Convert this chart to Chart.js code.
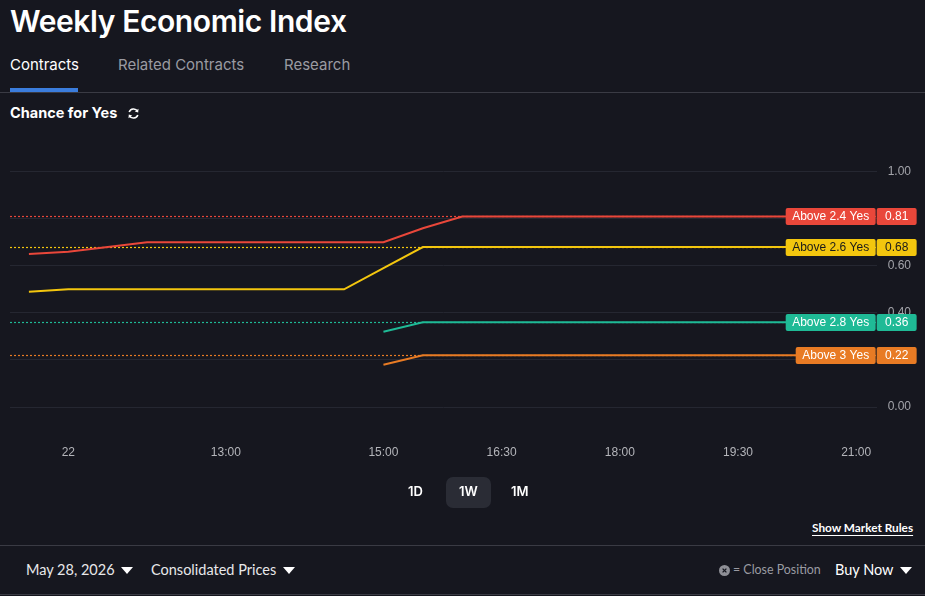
<!DOCTYPE html>
<html>
<head>
<meta charset="utf-8">
<script src="https://cdn.jsdelivr.net/npm/chart.js@4.4.1/dist/chart.umd.min.js"></script>
<style>
  html, body { margin: 0; padding: 0; background: #16171f; }
  body { width: 925px; height: 596px; position: relative; overflow: hidden; font-family: Inter, "Noto Sans", sans-serif; color: #fff; }
  .abs { position: absolute; white-space: nowrap; }
  #title { left: 10px; top: 3px; font-size: 30px; font-weight: 600; letter-spacing: -0.4px; }
  .tab { top: 55px; font-size: 15px; color: #9a9ba2; }
  #tabActive { left: 10px; color: #fff; }
  #tabLine { left: 10px; top: 88px; width: 68px; height: 4px; background: #3b7ddd; }
  .sep { left: 0; width: 925px; height: 1px; background: #3a3b44; }
  #chanceFor { left: 10px; top: 104px; font-size: 14.5px; font-weight: 700; }
  #chartWrap { left: 0; top: 130px; }
  .rng { top: 483px; font-size: 13px; font-weight: 600; }
  #r1W { left: 446px; top: 477px; width: 45px; height: 31px; background: #2a2c35; border-radius: 7px; }
  #rules { left: 812px; top: 520px; font-family: Lato, sans-serif; font-size: 11.8px; font-weight: 700; text-decoration: underline; text-underline-offset: 3px; }
  .bot { top: 561px; font-family: Lato, sans-serif; font-size: 14.5px; color: #e8e8ea; }
  .tri { width: 0; height: 0; border-left: 6px solid transparent; border-right: 6px solid transparent; border-top: 7px solid #fff; }
</style>
</head>
<body>
<div class="abs" id="title">Weekly Economic Index</div>
<div class="abs tab" id="tabActive">Contracts</div>
<div class="abs tab" style="left:118px">Related Contracts</div>
<div class="abs tab" style="left:284px">Research</div>
<div class="abs sep" style="top:92px"></div>
<div class="abs" id="tabLine"></div>
<div class="abs" id="chanceFor">Chance for Yes</div>
<svg class="abs" style="left:127px;top:107px" width="13" height="13" viewBox="0 0 13 13">
  <path d="M10.5 4.2 A4.6 4.6 0 0 0 2.2 5" fill="none" stroke="#fff" stroke-width="1.6"/>
  <path d="M2.5 8.8 A4.6 4.6 0 0 0 10.8 8" fill="none" stroke="#fff" stroke-width="1.6"/>
  <path d="M11.5 1.8 L11.2 5.4 L7.8 4.6 Z" fill="#fff"/>
  <path d="M1.5 11.2 L1.8 7.6 L5.2 8.4 Z" fill="#fff"/>
</svg>

<div class="abs" id="chartWrap"><canvas id="wei" width="925" height="350"></canvas></div>

<div class="abs" id="r1W"></div>
<div class="abs rng" style="left:408px">1D</div>
<div class="abs rng" style="left:459px">1W</div>
<div class="abs rng" style="left:511px">1M</div>
<div class="abs" id="rules">Show Market Rules</div>
<div class="abs sep" style="top:545px"></div>

<div class="abs bot" style="left:26px">May 28, 2026</div>
<div class="abs tri" style="left:121px;top:567px"></div>
<div class="abs bot" style="left:151px">Consolidated Prices</div>
<div class="abs tri" style="left:283px;top:567px"></div>
<svg class="abs" style="left:719px;top:565px" width="11" height="11" viewBox="0 0 11 11">
  <circle cx="5.5" cy="5.5" r="5.5" fill="#8e8f96"/>
  <path d="M3.6 3.6 L7.4 7.4 M7.4 3.6 L3.6 7.4" stroke="#16171f" stroke-width="1.3"/>
</svg>
<div class="abs" style="left:733px;top:562px;font-family:Lato,sans-serif;font-size:12.4px;color:#9a9ba2">= Close Position</div>
<div class="abs bot" style="left:835px;color:#fff">Buy Now</div>
<div class="abs tri" style="left:900px;top:567px"></div>
<div class="abs sep" style="top:594px"></div>

<script>
// time of day in hours (half-hour samples)
const hours = [10.5, 11, 11.5, 12, 12.5, 13, 13.5, 14, 14.5, 15, 15.5, 16, 16.5, 17, 17.5, 18, 18.5, 19, 19.5, 20, 20.5, 21];

const above24 = [0.65, 0.66, 0.68, 0.70, 0.70, 0.70, 0.70, 0.70, 0.70, 0.70, 0.76, 0.81, 0.81, 0.81, 0.81, 0.81, 0.81, 0.81, 0.81, 0.81, 0.81, 0.81];
const above26 = [0.49, 0.50, 0.50, 0.50, 0.50, 0.50, 0.50, 0.50, 0.50, 0.59, 0.68, 0.68, 0.68, 0.68, 0.68, 0.68, 0.68, 0.68, 0.68, 0.68, 0.68, 0.68];
const above28 = [null, null, null, null, null, null, null, null, null, 0.32, 0.36, 0.36, 0.36, 0.36, 0.36, 0.36, 0.36, 0.36, 0.36, 0.36, 0.36, 0.36];
const above3 = [null, null, null, null, null, null, null, null, null, 0.18, 0.22, 0.22, 0.22, 0.22, 0.22, 0.22, 0.22, 0.22, 0.22, 0.22, 0.22, 0.22];

const seriesNames = ['Above 2.4 Yes', 'Above 2.6 Yes', 'Above 2.8 Yes', 'Above 3 Yes'];
const seriesColors = ['#e9473a', '#f3c60e', '#1fba96', '#e87b24'];
const badgeText = ['#fff', '#1a1a1a', '#fff', '#fff'];

const xTickValues = [11, 13, 15, 16.5, 18, 19.5, 21];
const xTickLabels = ['22', '13:00', '15:00', '16:30', '18:00', '19:30', '21:00'];
const yTickValues = [0, 0.2, 0.4, 0.6, 0.8, 1.0];

const allSeries = [above24, above26, above28, above3];
const lastValue = s => s[s.length - 1];

const chartFont = '"Liberation Sans", Arial, sans-serif';

// dotted line at each contract's latest price
const refLines = {
  id: 'refLines',
  beforeDatasetsDraw(chart) {
    const { ctx, chartArea, scales } = chart;
    ctx.save();
    ctx.lineWidth = 1.2;
    ctx.setLineDash([2, 2]);
    allSeries.forEach((s, i) => {
      const y = Math.round(scales.y.getPixelForValue(lastValue(s))) + 0.5;
      ctx.strokeStyle = seriesColors[i];
      ctx.beginPath();
      ctx.moveTo(chartArea.left, y);
      ctx.lineTo(chartArea.right, y);
      ctx.stroke();
    });
    ctx.restore();
  }
};

// name + price badges on the right edge
const badges = {
  id: 'badges',
  afterDraw(chart) {
    const { ctx, chartArea, scales } = chart;
    ctx.save();
    ctx.font = '12px ' + chartFont;
    ctx.textBaseline = 'middle';
    allSeries.forEach((s, i) => {
      const v = lastValue(s);
      const y = scales.y.getPixelForValue(v);
      const h = 17;
      const top = Math.round(y - h / 2);
      const nameW = ctx.measureText(seriesNames[i]).width + 14;
      const right = chartArea.right;
      ctx.fillStyle = seriesColors[i];
      ctx.beginPath();
      ctx.roundRect(right - nameW, top, nameW - 1, h, 2);
      ctx.fill();
      ctx.beginPath();
      ctx.roundRect(right, top, 40, h, 2);
      ctx.fill();
      ctx.fillStyle = badgeText[i];
      ctx.textAlign = 'center';
      ctx.fillText(seriesNames[i], right - nameW / 2 - 0.5, y + 0.5);
      ctx.fillText(v.toFixed(2), right + 20, y + 0.5);
    });
    ctx.restore();
  }
};

new Chart(document.getElementById('wei'), {
  type: 'line',
  data: {
    datasets: allSeries.map((s, i) => ({
      label: seriesNames[i],
      data: hours.map((h, j) => ({ x: h, y: s[j] })),
      borderColor: seriesColors[i],
      borderWidth: 2,
      pointRadius: 0,
      tension: 0,
      spanGaps: false
    }))
  },
  options: {
    responsive: false,
    animation: false,
    layout: { padding: { left: 10, right: 3, top: 7, bottom: 12 } },
    plugins: { legend: { display: false }, tooltip: { enabled: false } },
    scales: {
      x: {
        type: 'linear',
        min: 10.26,
        max: 21.26,
        afterBuildTicks: scale => { scale.ticks = xTickValues.map(v => ({ value: v })); },
        ticks: {
          autoSkip: false,
          maxRotation: 0,
          padding: 8,
          color: '#b4b5ba',
          font: { family: chartFont, size: 12 },
          callback: v => xTickLabels[xTickValues.indexOf(v)]
        },
        grid: { display: false, drawTicks: false },
        border: { display: false }
      },
      y: {
        position: 'right',
        min: -0.13,
        max: 1.1,
        afterBuildTicks: scale => { scale.ticks = yTickValues.map(v => ({ value: v })); },
        ticks: {
          padding: 11,
          color: '#a3a4aa',
          font: { family: chartFont, size: 12 },
          callback: v => v.toFixed(2)
        },
        grid: { color: '#252731', lineWidth: 1, drawTicks: false },
        border: { display: false }
      }
    }
  },
  plugins: [refLines, badges]
});
</script>
</body>
</html>
